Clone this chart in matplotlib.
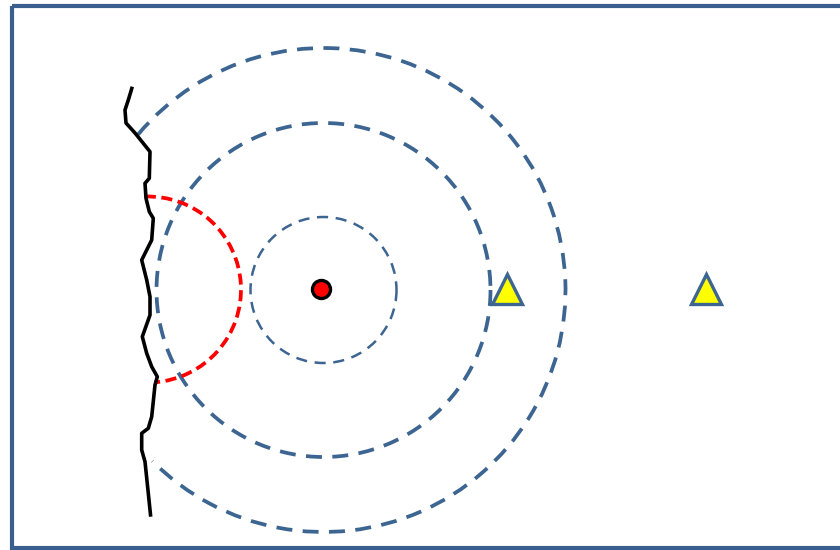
import numpy as np
import matplotlib
matplotlib.use("Agg")
import matplotlib.pyplot as plt
from matplotlib.patches import Arc, Rectangle

plt.rcParams['lines.scale_dashes'] = False

BLUE = '#3d6591'

# source point and receivers (pixel coords, y down)
src = (321, 289)
ring_c = (323.5, 290)
receivers_x = [507, 706]
receivers_y = [289, 289]

# wavefront circles around the source: radius, start angle, end angle, width, dashes
ring_r = [73, 167, 242]
ring_t1 = [0, 0, -140]
ring_t2 = [360, 360, 135]
ring_lw = [1.8, 2.7, 2.7]
ring_dash = [(8, 5.5), (11.5, 7.5), (11.5, 7.5)]

# reflected front from the wall
refl_c = (148, 289.5)
refl_r = 93
refl_t1, refl_t2 = -92, 86

# the rough wall
wall_x = [132.3, 128.3, 125, 126, 135, 150, 149.3, 145, 146, 149.3, 153.3, 151.7,
          141.7, 146.7, 150, 150, 142.3, 146.7, 151.7, 157.3, 155, 151.7, 148.3,
          141.7, 141.7, 145, 148.3, 150.7]
wall_y = [86.7, 100, 110, 123, 133, 151.7, 178.3, 183.3, 198.3, 211.7, 218.3, 240,
          260, 280, 296.7, 315, 336.7, 353.3, 366.7, 376.7, 385, 416.7, 428.3,
          433.3, 450, 461.7, 493.3, 516.7]

fig = plt.figure(figsize=(8.4, 5.5), dpi=100)
ax = fig.add_axes([0, 0, 1, 1])
ax.set_xlim(0, 840)
ax.set_ylim(550, 0)
ax.set_aspect('equal')
ax.axis('off')

# frame
ax.add_patch(Rectangle((12, 6), 860, 542, fill=False, edgecolor='#3a5f8f', lw=3, clip_on=False))

for r, t1, t2, lw, d in zip(ring_r, ring_t1, ring_t2, ring_lw, ring_dash):
    ax.add_patch(Arc(ring_c, 2 * r, 2 * r, theta1=t1, theta2=t2, edgecolor=BLUE,
                     lw=lw, linestyle=(0, d)))

ax.add_patch(Arc(refl_c, 2 * refl_r, 2 * refl_r, theta1=refl_t1, theta2=refl_t2,
                 edgecolor='red', lw=2.7, linestyle=(0, (8, 4))))

ax.plot(wall_x, wall_y, color='black', lw=2.6, solid_joinstyle='round', solid_capstyle='butt')

ax.plot(src[0], src[1], 'o', ms=13, mfc='red', mec='black', mew=2.4)
ax.plot(receivers_x, receivers_y, '^', ms=22, mfc='yellow', mec=BLUE, mew=2.4)

fig.savefig('out.png', dpi=100)
